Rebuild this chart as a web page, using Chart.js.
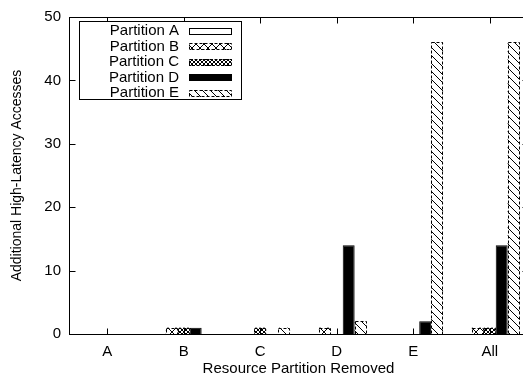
<!DOCTYPE html>
<html>
<head>
<meta charset="utf-8">
<script src="https://cdn.jsdelivr.net/npm/chart.js@4.4.0/dist/chart.umd.min.js"></script>
<style>
  html, body { margin: 0; padding: 0; background: #fff; overflow: hidden; }
  #wrap { width: 531px; height: 381px; }
</style>
</head>
<body>
<div id="wrap"><canvas id="chart" width="531" height="381"></canvas></div>
<script>
// categories = which resource partition was removed
const categories = ['A', 'B', 'C', 'D', 'E', 'All'];
const seriesNames = ['Partition A', 'Partition B', 'Partition C', 'Partition D', 'Partition E'];

// additional high-latency accesses per partition
const partA = [0, 0, 0, 0, 0, 0];
const partB = [0, 1, 0, 1, 0, 1];
const partC = [0, 1, 1, 0, 0, 1];
const partD = [0, 1, 0, 14, 2, 14];
const partE = [0, 0, 1, 2, 46, 46];

const yMin = 0, yMax = 50, yStep = 10;

const FONT = '"Liberation Sans", Arial, Helvetica, sans-serif';

// gnuplot-like fill patterns
function makePattern(size, draw) {
  const c = document.createElement('canvas');
  c.width = c.height = size;
  const g = c.getContext('2d');
  g.fillStyle = '#fff';
  g.fillRect(0, 0, size, size);
  g.strokeStyle = '#000';
  g.lineWidth = 1;
  draw(g, size);
  return g.createPattern(c, 'repeat');
}
const crossWide = makePattern(8, (g, s) => {
  g.beginPath();
  g.moveTo(0, 0); g.lineTo(s, s);
  g.moveTo(0, s); g.lineTo(s, 0);
  g.stroke();
});
const crossFine = makePattern(4, (g, s) => {
  g.beginPath();
  g.moveTo(0, 0); g.lineTo(s, s);
  g.moveTo(0, s); g.lineTo(s, 0);
  g.stroke();
});
const hatch = makePattern(8, (g, s) => {
  g.beginPath();
  g.moveTo(0, 0); g.lineTo(s, s);
  g.moveTo(-s, 0); g.lineTo(0, s);
  g.moveTo(s, 0); g.lineTo(2 * s, s);
  g.stroke();
});

const fills   = ['#fff', crossWide, crossFine, '#000', hatch];
const dashed  = [false, true, true, false, true];
const values  = [partA, partB, partC, partD, partE];

// frame with inward ticks on all four sides
const framePlugin = {
  id: 'frame',
  afterDraw(chart) {
    const { ctx, chartArea: a, scales: { x, y } } = chart;
    const L = Math.round(a.left) + 0.5, R = Math.round(a.right) + 0.5;
    const T = Math.round(a.top) + 0.5, B = Math.round(a.bottom) + 0.5;
    ctx.save();
    ctx.strokeStyle = '#000';
    ctx.lineWidth = 1;
    ctx.strokeRect(L, T, R - L, B - T);
    ctx.beginPath();
    for (let v = yMin; v <= yMax; v += yStep) {
      const py = Math.round(y.getPixelForValue(v)) + 0.5;
      ctx.moveTo(L, py); ctx.lineTo(L + 6, py);
      ctx.moveTo(R, py); ctx.lineTo(R - 6, py);
    }
    categories.forEach((c, i) => {
      const px = Math.round(x.getPixelForTick(i)) + 0.5;
      ctx.moveTo(px, B); ctx.lineTo(px, B - 6);
      ctx.moveTo(px, T); ctx.lineTo(px, T + 6);
    });
    ctx.stroke();
    ctx.restore();
  }
};

// dashed outlines on the patterned bars
const outlinePlugin = {
  id: 'outline',
  afterDatasetsDraw(chart) {
    const ctx = chart.ctx;
    ctx.save();
    ctx.strokeStyle = '#000';
    ctx.lineWidth = 1;
    chart.data.datasets.forEach((ds, i) => {
      if (!dashed[i]) return;
      chart.getDatasetMeta(i).data.forEach((bar, j) => {
        if (!ds.data[j]) return;
        const w = bar.width;
        ctx.setLineDash([3, 2]);
        ctx.strokeRect(Math.round(bar.x - w / 2) + 0.5, Math.round(bar.y) + 0.5,
                       Math.round(w) - 1, Math.round(bar.base - bar.y));
      });
    });
    ctx.restore();
  }
};

// boxed legend in the upper-left of the plot: label right-aligned, sample on the right
const legendPlugin = {
  id: 'boxLegend',
  afterDraw(chart) {
    const { ctx, chartArea: a } = chart;
    const bx = a.left + 10, by = a.top + 4, bw = 162, bh = 78;
    ctx.save();
    ctx.fillStyle = '#fff';
    ctx.fillRect(bx, by, bw, bh);
    ctx.strokeStyle = '#000';
    ctx.lineWidth = 1;
    ctx.strokeRect(bx + 0.5, by + 0.5, bw, bh);
    ctx.font = '15px ' + FONT;
    ctx.textAlign = 'right';
    ctx.textBaseline = 'middle';
    chart.data.datasets.forEach((ds, i) => {
      const cy = by + 10 + i * 15.5;
      ctx.fillStyle = '#000';
      ctx.fillText(ds.label, bx + 100, cy);
      ctx.fillStyle = fills[i];
      ctx.fillRect(bx + 110, Math.round(cy - 3.5), 43, 7);
      ctx.setLineDash(dashed[i] ? [3, 2] : []);
      ctx.strokeRect(bx + 110.5, Math.round(cy - 3.5) + 0.5, 42, 6);
    });
    ctx.restore();
  }
};

new Chart(document.getElementById('chart'), {
  type: 'bar',
  data: {
    labels: categories,
    datasets: seriesNames.map((name, i) => ({
      label: name,
      data: values[i],
      backgroundColor: fills[i],
      borderColor: '#000',
      borderWidth: dashed[i] ? 0 : 1,
      categoryPercentage: 0.78,
      barPercentage: 1.0
    }))
  },
  options: {
    responsive: false,
    animation: false,
    devicePixelRatio: 1,
    layout: { padding: { top: 10, right: 3, left: 0, bottom: 0 } },
    plugins: { legend: { display: false }, tooltip: { enabled: false } },
    scales: {
      x: {
        grid: { display: false, drawTicks: false },
        border: { display: false },
        ticks: { color: '#000', font: { family: FONT, size: 15 }, padding: 9 },
        title: {
          display: true, text: 'Resource Partition Removed', color: '#000',
          font: { family: FONT, size: 15 }, padding: { top: 0, bottom: 3 }
        },
        afterFit(s) { s.height = 47; }
      },
      y: {
        min: yMin, max: yMax,
        grid: { display: false, drawTicks: false },
        border: { display: false },
        ticks: { stepSize: yStep, color: '#000', font: { family: FONT, size: 15 }, padding: 8 },
        title: {
          display: true, text: 'Additional High-Latency Accesses', color: '#000',
          font: { family: FONT, size: 14 }, padding: { top: 9, bottom: 0 }
        },
        afterFit(s) { s.width = 69; }
      }
    }
  },
  plugins: [framePlugin, outlinePlugin, legendPlugin]
});
</script>
</body>
</html>
